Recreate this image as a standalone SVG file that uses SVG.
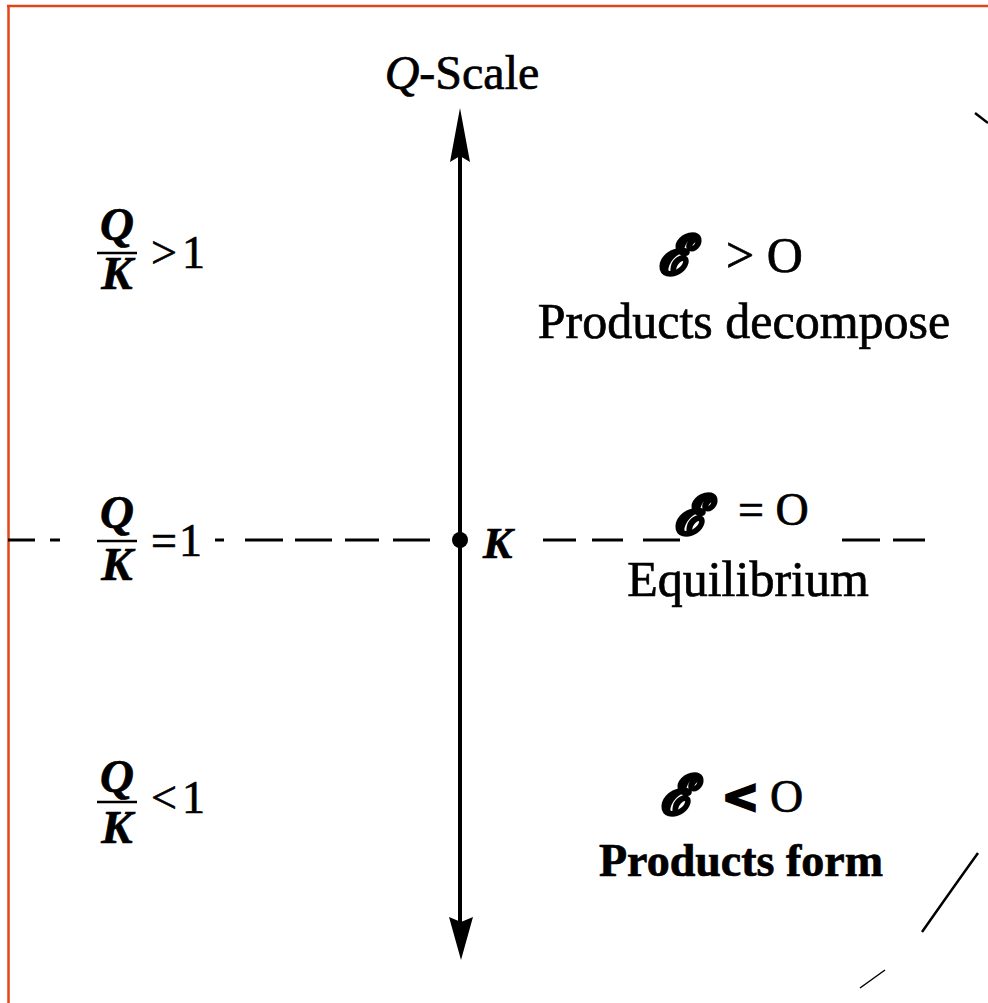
<svg xmlns="http://www.w3.org/2000/svg" width="988" height="1003" viewBox="0 0 988 1003">
<style>
.t{font-family:"Liberation Serif","Times New Roman",serif;fill:#000;stroke:#000;stroke-width:0.7}
.bi{font-weight:bold;font-style:italic}
.g{font-family:"DejaVu Serif",serif;font-style:italic;font-weight:bold;fill:#000;stroke:#000;stroke-width:3}
.dash{stroke:#000;stroke-width:3.2;fill:none}
.bar{stroke:#000;stroke-width:2.5}
</style>
<rect width="988" height="1003" fill="#fff"/>
<g id="border" fill="none" stroke="#e0461a" stroke-width="2.5">
<line x1="7" y1="6" x2="988" y2="6"/>
<line x1="8.5" y1="5" x2="8.5" y2="1003"/>
</g>
<g id="connectors">
<line x1="460" y1="150" x2="460" y2="925" stroke="#000" stroke-width="4"/>
<path d="M460,108 L470,162 L460,156 L450,162 Z" fill="#000"/>
<path d="M461,960 L449,917 L461,922 L473,917 Z" fill="#000"/>
<path class="dash" d="M8,540H35M50,540H60M215,540H224M245,540H283M295,540H332M345,540H379M393,540H430M543,540H576M592,540H623M643,540H680M842,540H880M893,540H925"/>
<circle cx="460" cy="540" r="8" fill="#000"/>
</g>
<g id="qscale"><text class="t" x="462" y="89" font-size="48" text-anchor="middle"><tspan font-style="italic">Q</tspan>-Scale</text></g>
<g id="k-label"><text class="t bi" x="483" y="558" font-size="44">K</text></g>
<g id="left-top">
<text class="t bi" x="117" y="240" font-size="47" text-anchor="middle">Q</text>
<line class="bar" x1="97" y1="253" x2="137" y2="253"/>
<text class="t bi" x="117" y="289" font-size="47" text-anchor="middle">K</text>
<text class="t" x="151" y="268" font-size="46">&gt;<tspan dx="5">1</tspan></text>
</g>
<g id="left-mid">
<text class="t bi" x="117" y="528" font-size="47" text-anchor="middle">Q</text>
<line class="bar" x1="97" y1="541" x2="137" y2="541"/>
<text class="t bi" x="117" y="580" font-size="47" text-anchor="middle">K</text>
<text class="t" x="151" y="556" font-size="46">=<tspan dx="2">1</tspan></text>
</g>
<g id="left-bot">
<text class="t bi" x="117" y="792" font-size="47" text-anchor="middle">Q</text>
<line class="bar" x1="97" y1="802" x2="137" y2="802"/>
<text class="t bi" x="117" y="843" font-size="47" text-anchor="middle">K</text>
<text class="t" x="151" y="813" font-size="46">&lt;<tspan dx="5">1</tspan></text>
</g>
<g id="right-top">
<text class="g" x="658" y="274" font-size="54">ℰ</text>
<text class="t" x="726" y="272" font-size="50">&gt; O</text>
<text class="t" x="744" y="338" font-size="50" text-anchor="middle">Products decompose</text>
</g>
<g id="right-mid">
<text class="g" x="674" y="534" font-size="54">ℰ</text>
<text class="t" x="738" y="525" font-size="46">= O</text>
<text class="t" x="748" y="596" font-size="50" text-anchor="middle">Equilibrium</text>
</g>
<g id="right-bot">
<text class="g" x="660" y="814" font-size="54">ℰ</text>
<text class="g" x="722" y="812" font-size="44">&lt;</text>
<text class="t" x="770" y="812" font-size="46">O</text>
<text class="t" x="741" y="876" font-size="46" font-weight="bold" text-anchor="middle">Products form</text>
</g>
<g id="marks" fill="none" stroke="#000" stroke-width="2.5">
<path d="M975,113 L988,123"/>
<path d="M978,853 Q955,885 922,932"/>
<path d="M885,970 L860,988" stroke-width="1.5"/>
</g>
</svg>
